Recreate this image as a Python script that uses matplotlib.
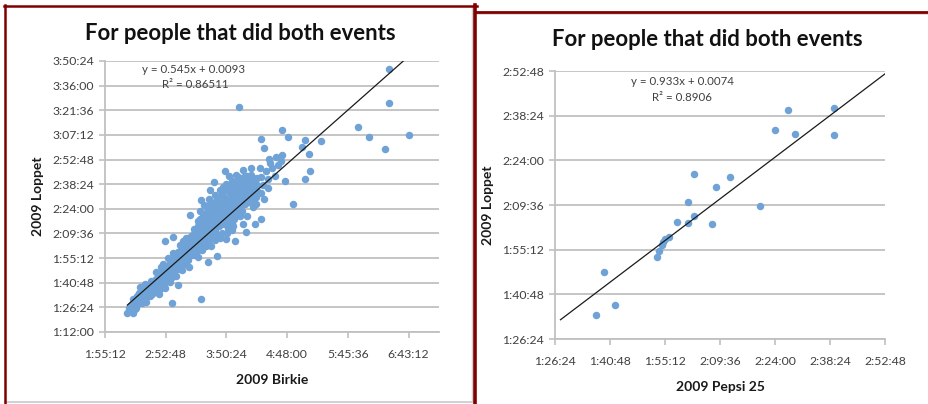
import matplotlib
matplotlib.use("Agg")
import matplotlib.pyplot as plt
from matplotlib.lines import Line2D

# ---------------- data (minutes) ----------------
# Left chart: 2009 Birkie (x) vs 2009 Loppet (y)
birkie_min = [
    136.4, 141.7, 143.3, 138, 140, 142, 145, 146, 148, 144, 147, 150, 151, 152, 148, 154.4, 155, 156, 157, 158,
    159, 153, 160, 161, 162, 163,
    164, 165, 166, 167, 168, 169, 170, 171, 172, 173, 174, 175, 176, 177, 178, 179, 180, 181, 182, 183, 184,
    171.7, 179.3, 178.7, 184.4, 170, 175, 180, 166, 172, 177, 183,
    185, 186, 187, 188, 189, 190, 191, 192, 193, 194, 195, 196, 197, 198, 199, 200, 201, 202, 203, 204, 205,
    206, 207, 208, 209, 210, 196.0, 204.9, 206.5, 212.8, 221.6, 206.5, 188, 195, 200, 192, 186, 203,
    211, 212, 213, 214, 215, 216, 217, 218, 219, 220, 221, 222, 223, 224, 225, 226, 227, 228, 229, 230, 231,
    232, 233, 234, 235, 218.5, 229.2, 230.1, 230.1, 235.2, 214, 220, 226, 224, 216, 228, 212, 232,
    236, 237, 238, 239, 240, 241, 242, 243, 244, 245, 246, 247, 248, 249, 250, 251, 252, 253, 254, 255, 256,
    257, 258, 259, 260, 241.2, 245.9, 254.1, 238.7, 249.4, 245.9, 257.3, 262.7, 258.6, 262.7, 238, 244, 250,
    256, 236, 248,
    263.3, 269.9, 271.2, 271.8, 279.1, 277.5, 283.5, 285.7, 293.6, 263.3, 265.8, 283.5, 288.6, 304.7, 302.1,
    320.1, 308.8, 309.7, 304.7, 265, 268, 274, 276, 282, 266, 262, 270,
    384.9, 384.9, 242.5, 355.5, 365.3, 403.5, 380.8,
    # dense core
    139, 141, 143, 145, 147, 149, 151, 153, 155, 157, 159, 150, 146, 154, 158, 142,
    161, 163, 165, 167, 169, 171, 173, 175, 177, 179, 181, 183, 162, 168, 174, 178, 182, 185, 164, 170, 176,
    180, 184,
    186, 188, 190, 192, 194, 196, 198, 200, 202, 204, 206, 208, 210, 187, 189, 191, 193, 197, 199, 201, 203,
    205, 207, 209, 195, 189,
    211, 213, 215, 217, 219, 221, 223, 225, 227, 229, 231, 233, 235, 212, 214, 216, 218, 220, 222, 224, 226,
    228, 230, 232, 234, 236, 220, 226,
    237, 239, 241, 243, 245, 247, 249, 251, 253, 255, 257, 259, 240, 242, 244, 246, 248, 250, 252, 254, 239,
    243, 237,
    # upper part of the band
    200, 203, 206, 208, 210, 212, 214, 216, 218, 220, 222, 224, 226, 228, 230, 232, 234, 236, 238, 240, 242,
    244, 246, 248, 250, 252, 254, 205, 209, 215, 221, 227, 233, 239, 245, 251, 223, 231, 237,
]
loppet_min = [
    83.3, 83.3, 85.7, 86, 87.5, 89, 88, 90.5, 92, 91, 95, 93, 90, 96, 98.3, 89.6, 93, 97, 95, 99,
    102, 100, 94, 98, 101, 96,
    103, 99, 105, 97, 101, 107, 103, 100, 109, 105, 110, 102, 108, 112, 106, 104, 111, 114, 108, 110, 116,
    125.3, 127.4, 89.2, 99.7, 112, 115, 118, 94, 98, 101, 105,
    113, 118, 110, 115, 121, 112, 117, 119, 124, 114, 120, 122, 117, 126, 121, 119, 124, 128, 116, 122, 126,
    130, 120, 125, 132, 128, 140.3, 138.0, 149.1, 113.2, 116.5, 91.1, 108, 110, 129, 127, 123, 134,
    122, 135, 130, 126, 138, 132, 128, 141, 135, 131, 139, 144, 134, 137, 142, 130, 146, 139, 143, 136, 148,
    141, 145, 138, 150, 159.8, 166.2, 158.4, 126.4, 131.5, 146, 148, 152, 127, 122, 155, 142, 133,
    144, 153, 147, 141, 151, 156, 145, 149, 154, 143, 158, 150, 147, 155, 152, 160, 148, 157, 153, 150, 162,
    155, 151, 158, 154, 162.7, 166.6, 167.6, 125.3, 130.5, 135.4, 135.4, 138.3, 147.1, 153.4, 138, 162, 140,
    145, 156, 163,
    162.7, 161.7, 172.9, 170.5, 169.5, 174.4, 175.4, 160.2, 146.7, 185.1, 179.3, 190.0, 185.7, 184.2, 180.3,
    183.4, 175.8, 166.0, 161.4, 158, 166, 168, 163, 172, 150, 168, 156,
    225.5, 205.6, 203.3, 192.0, 185.7, 186.9, 179.1,
    # dense core
    85, 86, 88, 86, 89, 91, 94, 92, 96, 98, 97, 89, 93, 98, 93, 91,
    102, 99, 104, 102, 104, 106, 108, 107, 109, 110, 111, 113, 96, 110, 104, 114, 116, 109, 107, 100, 111,
    106, 119,
    115, 118, 116, 121, 118, 125, 120, 125, 122, 127, 125, 129, 133, 120, 113, 123, 116, 128, 117, 131, 120,
    130, 134, 126, 126, 125,
    130, 134, 131, 137, 139, 134, 141, 137, 143, 140, 144, 140, 146, 127, 141, 136, 131, 143, 137, 147, 141,
    135, 150, 148, 143, 136, 126, 148,
    148, 152, 146, 155, 150, 154, 151, 155, 161, 157, 160, 162, 142, 158, 146, 153, 158, 148, 154, 160, 157,
    140, 143,
    # upper part of the band
    132, 137, 135, 140, 138, 145, 150, 143, 147, 152, 150, 155, 145, 151, 155, 158, 153, 160, 150, 159, 153,
    158, 161, 156, 163, 159, 164, 143, 146, 155, 145, 157, 163, 164, 155, 150, 128, 130, 134,
]

# Right chart: 2009 Pepsi 25 (x) vs 2009 Loppet (y)
pepsi_min = [97.1, 99.1, 102.0, 113.2, 113.7, 114.3, 114.8, 115.2, 116.3, 118.3, 121.1, 121.3, 122.7,
             122.8, 127.4, 128.5, 132.2, 140.2, 144.0, 147.3, 149.3, 159.4, 159.4]
loppet2_min = [94.0, 107.9, 97.3, 112.8, 114.8, 116.7, 117.8, 118.6, 119.4, 124.2, 123.7, 130.5, 125.9,
               139.7, 123.5, 135.5, 138.7, 129.2, 153.7, 160.2, 152.4, 161.0, 152.1]

# Trend lines (Excel, in days)
trend_left = (0.545, 0.0093)
trend_right = (0.933, 0.0074)
eq_left = ["y = 0.545x + 0.0093", "R² = 0.86511"]
eq_right = ["y = 0.933x + 0.0074", "R² = 0.8906"]

# Tick labels
left_xticks = ["1:55:12", "2:52:48", "3:50:24", "4:48:00", "5:45:36", "6:43:12"]
left_yticks = ["1:12:00", "1:26:24", "1:40:48", "1:55:12", "2:09:36", "2:24:00", "2:38:24",
               "2:52:48", "3:07:12", "3:21:36", "3:36:00", "3:50:24"]
right_xticks = ["1:26:24", "1:40:48", "1:55:12", "2:09:36", "2:24:00", "2:38:24", "2:52:48"]
right_yticks = ["1:26:24", "1:40:48", "1:55:12", "2:09:36", "2:24:00", "2:38:24", "2:52:48"]

title = "For people that did both events"


def hms_to_day(s):
    h, m, sec = [int(v) for v in s.split(":")]
    return (h * 3600 + m * 60 + sec) / 86400.0


def to_day(vals):
    return [v / 1440.0 for v in vals]


# ---------------- figure ----------------
W, H = 929, 404
fig = plt.figure(figsize=(W / 100, H / 100), dpi=100)
fig.patch.set_facecolor("white")
FONT = ["Lato", "DejaVu Sans"]
plt.rcParams["font.family"] = FONT

PT_COLOR = "#6fa2d6"
GRID = "#c0c0c0"
TXT = "#404040"


def px_axes(x0, y0, x1, y1):
    return fig.add_axes([x0 / W, 1 - y1 / H, (x1 - x0) / W, (y1 - y0) / H])


def style(ax, xt, yt, xlim, ylim):
    ax.set_xlim(*xlim)
    ax.set_ylim(*ylim)
    ax.set_xticks([hms_to_day(s) for s in xt])
    ax.set_xticklabels(xt)
    ax.set_yticks([hms_to_day(s) for s in yt])
    ax.set_yticklabels(yt)
    ax.yaxis.grid(True, color=GRID, linewidth=1.3)
    ax.set_axisbelow(True)
    for s in ["top", "right"]:
        ax.spines[s].set_visible(False)
    for s in ["left", "bottom"]:
        ax.spines[s].set_color(GRID)
        ax.spines[s].set_linewidth(1.3)
    ax.tick_params(axis="both", colors=GRID, length=4, width=1.2, labelsize=8.8,
                   labelcolor=TXT, direction="out")
    ax.tick_params(axis="x", pad=8)
    ax.tick_params(axis="y", pad=4)
    ax.set_facecolor("none")


# Left chart
axL = px_axes(105, 61, 439, 332)
style(axL, left_xticks, left_yticks, (0.08, 0.30), (0.05, 0.16))
bx = to_day(birkie_min)
ly = to_day(loppet_min)
axL.scatter(bx, ly, s=29, color=PT_COLOR, linewidths=0, zorder=2)
x0, x1 = min(bx), max(bx)
axL.plot([x0, x1], [trend_left[0] * x0 + trend_left[1], trend_left[0] * x1 + trend_left[1]],
         color="#1a1a1a", linewidth=0.9, zorder=3)
axL.set_xlabel("2009 Birkie", fontsize=10, fontweight="bold", color="#1a1a1a", labelpad=10)
axL.set_ylabel("2009 Loppet", fontsize=10, fontweight="bold", color="#1a1a1a", labelpad=6)
axL.text(0.266, 0.97, eq_left[0], transform=axL.transAxes, fontsize=8.3, color=TXT, ha="center", va="center")
axL.text(0.27, 0.913, eq_left[1], transform=axL.transAxes, fontsize=8.3, color=TXT, ha="center", va="center")

# Right chart
axR = px_axes(555, 71, 885, 339)
style(axR, right_xticks, right_yticks, (0.06, 0.12), (0.06, 0.12))
px = to_day(pepsi_min)
py = to_day(loppet2_min)
axR.scatter(px, py, s=29, color=PT_COLOR, linewidths=0, zorder=2)
r0, r1 = 0.061, 0.12
axR.plot([r0, r1], [trend_right[0] * r0 + trend_right[1], trend_right[0] * r1 + trend_right[1]],
         color="#1a1a1a", linewidth=0.9, zorder=3)
axR.set_xlabel("2009 Pepsi 25", fontsize=10, fontweight="bold", color="#1a1a1a", labelpad=10)
axR.set_ylabel("2009 Loppet", fontsize=10, fontweight="bold", color="#1a1a1a", labelpad=6)
axR.text(0.385, 0.96, eq_right[0], transform=axR.transAxes, fontsize=8.3, color=TXT, ha="center", va="center")
axR.text(0.385, 0.90, eq_right[1], transform=axR.transAxes, fontsize=8.3, color=TXT, ha="center", va="center")

# Titles
fig.text(240 / W, 1 - 33 / H, title, fontsize=15.9, fontweight="bold", color="#111111",
         ha="center", va="center")
fig.text(707 / W, 1 - 39 / H, title, fontsize=15.9, fontweight="bold", color="#111111",
         ha="center", va="center")

# Frames (decoration)
ov = fig.add_axes([0, 0, 1, 1], zorder=10)
ov.set_xlim(0, W)
ov.set_ylim(H, 0)
ov.axis("off")
RED = "#800000"
ov.add_line(Line2D([5, 473], [402, 402], color="#c8c8c8", lw=1.2))
ov.add_line(Line2D([472.5, 472.5], [6, 402], color="#d0d0d0", lw=1.0))
ov.add_line(Line2D([476, 929], [13.5, 13.5], color="#d8d8d8", lw=1.2))
ov.add_line(Line2D([5, 5], [5, 404], color=RED, lw=1.8))
ov.add_line(Line2D([4, 477], [5.5, 5.5], color=RED, lw=1.8))
ov.add_line(Line2D([475.5, 475.5], [5, 404], color=RED, lw=2.6))
ov.add_line(Line2D([475, 929], [11.5, 11.5], color=RED, lw=2.0))

fig.savefig("out.png", dpi=100, facecolor="white")
